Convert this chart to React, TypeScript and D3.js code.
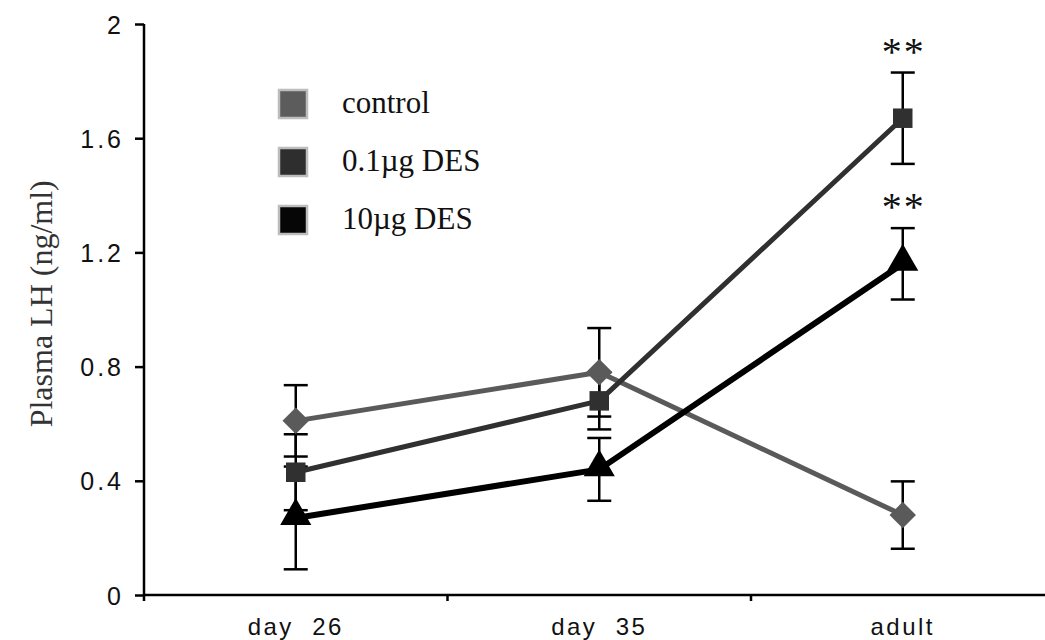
import { useEffect, useRef } from 'react';
import * as d3 from 'd3';

const categories = ['day 26', 'day 35', 'adult'];
const seriesNames = ['control', '0.1µg DES', '10µg DES'];
const controlValues = [0.61, 0.78, 0.28];
const controlErrors = [0.125, 0.155, 0.118];
const lowDoseValues = [0.43, 0.68, 1.67];
const lowDoseErrors = [0.133, 0.10, 0.16];
const highDoseValues = [0.27, 0.44, 1.16];
const highDoseErrors = [0.18, 0.11, 0.125];
const yTicks = [0, 0.4, 0.8, 1.2, 1.6, 2];
const yTickLabels = ['0', '0.4', '0.8', '1.2', '1.6', '2'];
const significance = [null, null, '**'];

const W = 1045, H = 640;
const serif = '"Liberation Serif", "Times New Roman", serif';
const sans = '"Liberation Sans", Arial, sans-serif';

export default function App() {
  const ref = useRef<SVGSVGElement>(null);

  useEffect(() => {
    const svg = d3.select(ref.current);
    svg.selectAll('*').remove();

    const x = d3.scaleBand().domain(categories).range([144, 1054.5]).padding(0);
    const y = d3.scaleLinear().domain([0, 2]).range([595, 24]);
    const cx = (c: string) => (x(c) as number) + x.bandwidth() / 2;

    const series = [
      { name: seriesNames[0], values: controlValues, errors: controlErrors, color: '#5a5a5a', width: 5, shape: 'diamond', legend: '#5c5c5c', stars: [null, null, null] },
      { name: seriesNames[1], values: lowDoseValues, errors: lowDoseErrors, color: '#303030', width: 5, shape: 'square', legend: '#2e2e2e', stars: significance },
      { name: seriesNames[2], values: highDoseValues, errors: highDoseErrors, color: '#000000', width: 6, shape: 'triangle', legend: '#060606', stars: significance },
    ];

    // axes
    const yAxis = svg.append('g').attr('transform', 'translate(144,0)')
      .call(d3.axisLeft(y).tickValues(yTicks).tickSize(9).tickPadding(11)
        .tickFormat((d, i) => yTickLabels[i]));
    yAxis.select('.domain').attr('stroke', '#000').attr('stroke-width', 2.5).attr('d', `M0,${y(2)}V${y(0) + 6}`);
    yAxis.selectAll('.tick line').attr('stroke', '#000').attr('stroke-width', 2.5);
    yAxis.selectAll('.tick text').attr('fill', '#111').style('font-family', sans)
      .style('font-size', '25px').style('letter-spacing', '3px').attr('dy', '0.36em');

    const xAxis = svg.append('g').attr('transform', `translate(0,${y(0)})`)
      .call(d3.axisBottom(x).tickSize(0).tickPadding(0));
    xAxis.select('.domain').attr('stroke', '#000').attr('stroke-width', 2.5).attr('d', `M144,0H${W}`);
    xAxis.selectAll('.tick text').attr('fill', '#111').style('font-family', sans)
      .style('font-size', '24px').style('letter-spacing', '2.5px').attr('y', 40).attr('dy', 0)
      .text((d: any) => d.replace(' ', '\u00a0 '));
    categories.slice(1).forEach(c => {
      svg.append('line').attr('x1', x(c) as number).attr('x2', x(c) as number)
        .attr('y1', y(0)).attr('y2', y(0) + 6).attr('stroke', '#000').attr('stroke-width', 2.5);
    });

    // y title
    svg.append('text').attr('transform', `translate(52,${y(1.02)}) rotate(-90)`)
      .attr('text-anchor', 'middle').style('font-family', serif)
      .style('font-size', '32px').attr('fill', '#333').text('Plasma LH (ng/ml)');

    // error bars
    series.forEach(s => {
      categories.forEach((c, i) => {
        const hi = y(s.values[i] + s.errors[i]), lo = y(s.values[i] - s.errors[i]);
        const g = svg.append('g').attr('stroke', '#000').attr('stroke-width', 2.5);
        g.append('line').attr('x1', cx(c)).attr('x2', cx(c)).attr('y1', hi).attr('y2', lo);
        g.append('line').attr('x1', cx(c) - 12).attr('x2', cx(c) + 12).attr('y1', hi).attr('y2', hi);
        g.append('line').attr('x1', cx(c) - 12).attr('x2', cx(c) + 12).attr('y1', lo).attr('y2', lo);
      });
    });

    // lines
    series.forEach(s => {
      const line = d3.line<number>().x((d, i) => cx(categories[i])).y(d => y(d));
      svg.append('path').attr('d', line(s.values)).attr('fill', 'none')
        .attr('stroke', s.color).attr('stroke-width', s.width).attr('stroke-linejoin', 'round');
    });

    // markers
    series.forEach(s => {
      s.values.forEach((v, i) => {
        const px = cx(categories[i]), py = y(v);
        if (s.shape === 'diamond') {
          svg.append('path').attr('d', d3.symbol().type(d3.symbolSquare).size(350)())
            .attr('fill', s.color).attr('transform', `translate(${px},${py}) rotate(45)`);
        } else if (s.shape === 'square') {
          svg.append('path').attr('d', d3.symbol().type(d3.symbolSquare).size(380)())
            .attr('fill', s.color).attr('transform', `translate(${px},${py})`);
        } else {
          svg.append('path').attr('d', d3.symbol().type(d3.symbolTriangle).size(420)())
            .attr('fill', s.color).attr('transform', `translate(${px},${py - 2})`);
        }
      });
    });

    // significance stars
    series.forEach(s => {
      s.stars.forEach((st, i) => {
        if (!st) return;
        svg.append('text').attr('x', cx(categories[i]) + 1).attr('y', y(s.values[i] + s.errors[i]) - 8)
          .attr('text-anchor', 'middle').style('font-family', serif)
          .style('font-size', '40px').style('letter-spacing', '2px').attr('fill', '#111').text(st);
      });
    });

    // legend
    const legend = svg.append('g');
    series.forEach((s, i) => {
      const ly = 104 + i * 58;
      legend.append('rect').attr('x', 279).attr('y', ly - 14).attr('width', 28).attr('height', 28)
        .attr('fill', s.legend).attr('stroke', '#bdbdbd').attr('stroke-width', 2.5);
      legend.append('text').attr('x', 342).attr('y', ly + 9)
        .style('font-family', serif).style('font-size', '31px')
        .attr('fill', '#111').text(s.name);
    });
  }, []);

  return (
    <svg ref={ref} width={W} height={H} style={{ position: 'absolute', left: 0, top: 0, background: '#fff' }} />
  );
}
